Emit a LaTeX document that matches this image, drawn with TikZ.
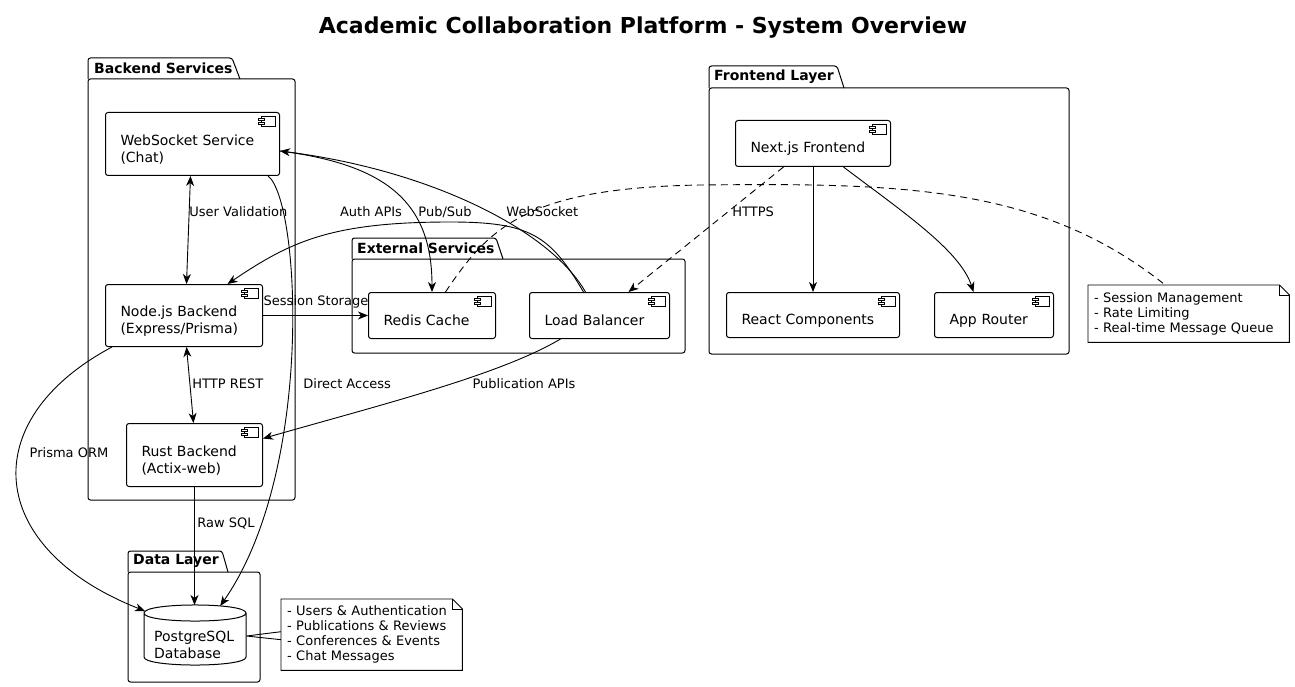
\documentclass[tikz,border=0pt]{standalone}
\usepackage{fontspec}
\setmainfont{DejaVu Sans}
\usepackage{tikz}
\usetikzlibrary{arrows.meta}

% small component glyph in the top right corner of a box
\newcommand{\compicon}[1]{%
  \draw[line width=0.8pt] ([shift={(-19,4)}]#1.north east) rectangle ([shift={(-5,14)}]#1.north east);
  \draw[line width=0.8pt, fill=white] ([shift={(-22,6)}]#1.north east) rectangle ([shift={(-16,8.5)}]#1.north east);
  \draw[line width=0.8pt, fill=white] ([shift={(-22,10)}]#1.north east) rectangle ([shift={(-16,12.5)}]#1.north east);
}
% note frame with folded corner
\newcommand{\notebox}[1]{%
  \draw[line width=0.9pt] (#1.north west) -- ([xshift=-10pt]#1.north east) -- ([yshift=-10pt]#1.north east)
    -- (#1.south east) -- (#1.south west) -- cycle;
  \draw[line width=0.9pt] ([xshift=-10pt]#1.north east) -- ([shift={(-10,10)}]#1.north east) -- ([yshift=-10pt]#1.north east);
}

\begin{document}
\begin{tikzpicture}[x=1pt, y=-1pt,
    >={Stealth[length=10pt, width=8pt, inset=3pt]},
    comp/.style={draw, line width=1pt, rounded corners=2.5pt, anchor=north west, align=left,
      inner xsep=15pt, inner ysep=0pt, font=\fontsize{14}{17}\selectfont,
      execute at begin node={\rule{0pt}{21pt}}},
    pkg/.style={line width=1pt, rounded corners=2.5pt},
    pkgname/.style={inner sep=0pt, anchor=west, font=\fontsize{14}{17}\selectfont\bfseries},
    lbl/.style={inner sep=0pt, font=\fontsize{13}{15}\selectfont},
    notetext/.style={anchor=north west, align=left, inner xsep=6pt, inner ysep=0pt,
      font=\fontsize{13}{15}\selectfont},
    link/.style={line width=0.9pt, ->},
    dlink/.style={line width=0.9pt, <->},
    dlinkd/.style={line width=0.9pt, ->, dash pattern=on 7pt off 5pt}
  ]
  \useasboundingbox (0,0) rectangle (1295,687);

  % Title
  \node[font=\fontsize{22}{26}\selectfont\bfseries] (title) at (643,28) {Academic Collaboration Platform - System Overview};

  % Packages
  \draw[pkg] (88,79) -- (88,58) -- (232,58) -- (240,79);
  \draw[pkg] (88,79) rectangle (295,500);
  \node[pkgname] (bkname) at (94,68) {Backend Services};

  \draw[pkg] (352,259) -- (352,238) -- (496,238) -- (503,259);
  \draw[pkg] (352,259) rectangle (685,353);
  \node[pkgname] (exname) at (357,248) {External Services};

  \draw[pkg] (709,88) -- (709,66) -- (837,66) -- (844,88);
  \draw[pkg] (709,88) rectangle (1069,354);
  \node[pkgname] (frname) at (714,77) {Frontend Layer};

  \draw[pkg] (128,572) -- (128,551) -- (222,551) -- (228,572);
  \draw[pkg] (128,572) rectangle (260,682);
  \node[pkgname] (dtname) at (133,561) {Data Layer};

  % Components
  \node[comp, text width=144pt, minimum height=63pt] (ws) at (105,112) {WebSocket Service\\(Chat)};
  \node[comp, text width=127pt, minimum height=62pt] (njs) at (105,284) {Node.js Backend\\(Express/Prisma)};
  \node[comp, text width=106pt, minimum height=63pt] (rust) at (126,423) {Rust Backend\\(Actix-web)};
  \node[comp, text width=97pt, minimum height=46pt] (redis) at (368,292) {Redis Cache};
  \node[comp, text width=110pt, minimum height=46pt] (lb) at (529,292) {Load Balancer};
  \node[comp, text width=125pt, minimum height=46pt] (next) at (735,120) {Next.js Frontend};
  \node[comp, text width=143pt, minimum height=45pt] (react) at (726,292) {React Components};
  \node[comp, text width=89pt, minimum height=45pt] (router) at (934,292) {App Router};
  \foreach \c in {ws,njs,rust,redis,lb,next,react,router} {\compicon{\c}}

  % Database
  \node[minimum width=102pt, minimum height=60pt, inner sep=0pt, anchor=north west] (db) at (144,605) {};
  \draw[line width=1pt] (144,613) .. controls (144,602.3) and (246,602.3) .. (246,613)
    .. controls (246,623.7) and (144,623.7) .. (144,613) -- (144,657)
    .. controls (144,667.7) and (246,667.7) .. (246,657) -- (246,613);
  \node[inner sep=0pt, anchor=west, align=left, font=\fontsize{14}{17}\selectfont] (dbtxt) at (154,645) {PostgreSQL\\Database};

  % Notes
  \node[notetext, text width=189pt, minimum height=57pt] (note1) at (1088,285)
    {- Session Management\\- Rate Limiting\\- Real-time Message Queue};
  \notebox{note1}
  \node[notetext, text width=169pt, minimum height=71pt] (note2) at (281,599)
    {- Users \& Authentication\\- Publications \& Reviews\\- Conferences \& Events\\- Chat Messages};
  \notebox{note2}

  % Backend links
  \draw[dlink] ([xshift=-2pt]ws.south) -- ([xshift=2.5pt]njs.north)
    node[lbl, anchor=west] (lbluser) at (189,212) {User Validation};
  \draw[dlink] ([xshift=2.5pt]njs.south) -- ([xshift=-1pt]rust.north)
    node[lbl, anchor=west] (lblrest) at (192,384) {HTTP REST};
  \draw[link] (njs) -- (redis)
    node[lbl] (lblsess) at (316,302) {Session Storage};
  \draw[link] (rust.south) -- (rust.south |- db.north)
    node[lbl, anchor=west] (lblsql) at (197,524) {Raw SQL};
  \draw[link] ([xshift=7pt]njs.south west) .. controls (-25,420) and (-15,548) .. ([shift={(1,6)}]db.north west)
    node[lbl] (lblorm) at (69,453) {Prisma ORM};
  \draw[link] ([xshift=-12pt]ws.south east) .. controls (300,200) and (315,470) .. ([shift={(25,1)}]db.north)
    node[lbl, anchor=west] (lbldirect) at (303,384) {Direct Access};

  % Links to the external services
  \draw[link] ([yshift=-7pt]ws.east) .. controls (390,165) and (432,205) .. (redis.north)
    node[lbl, anchor=west] (lblpub) at (418,212) {Pub/Sub};
  \draw[link] ([xshift=-14pt]lb.north) .. controls (550,230) and (430,170) .. ([yshift=-7pt]ws.east)
    node[lbl, anchor=west] (lblws) at (506,212) {WebSocket};
  \draw[link] ([xshift=-16pt]lb.north) .. controls (550,235) and (530,222) .. (450,222)
    .. controls (330,222) and (290,242) .. ([xshift=43.5pt]njs.north)
    node[lbl] (lblauth) at (371,212) {Auth APIs};
  \draw[link] ([xshift=-39pt]lb.south) .. controls (500,375) and (380,405) .. ([yshift=16.5pt]rust.east)
    node[lbl] (lblpubapi) at (524,384) {Publication APIs};

  % Frontend links
  \draw[dlinkd] ([xshift=-29.5pt]next.south) -- ([xshift=29pt]lb.north)
    node[lbl, anchor=west] (lblhttps) at (732,212) {HTTPS};
  \draw[link] (next.south) -- (react.north);
  \draw[link] ([xshift=30.5pt]next.south) .. controls (900,210) and (960,250) .. ([xshift=-20.5pt]router.north);

  % Note links
  \draw[line width=0.9pt, dash pattern=on 7pt off 5pt] ([xshift=13.5pt]redis.north) .. controls (490,225) and (530,188) .. (700,185)
    .. controls (900,183) and (1040,185) .. ([xshift=-23.5pt]note1.north);
  \draw[line width=0.9pt] ([shift={(0,31)}]db.north east) -- ([yshift=3pt]note2.west)
    ([shift={(0,31)}]db.north east) -- ([yshift=-5pt]note2.west);
\end{tikzpicture}
\end{document}
